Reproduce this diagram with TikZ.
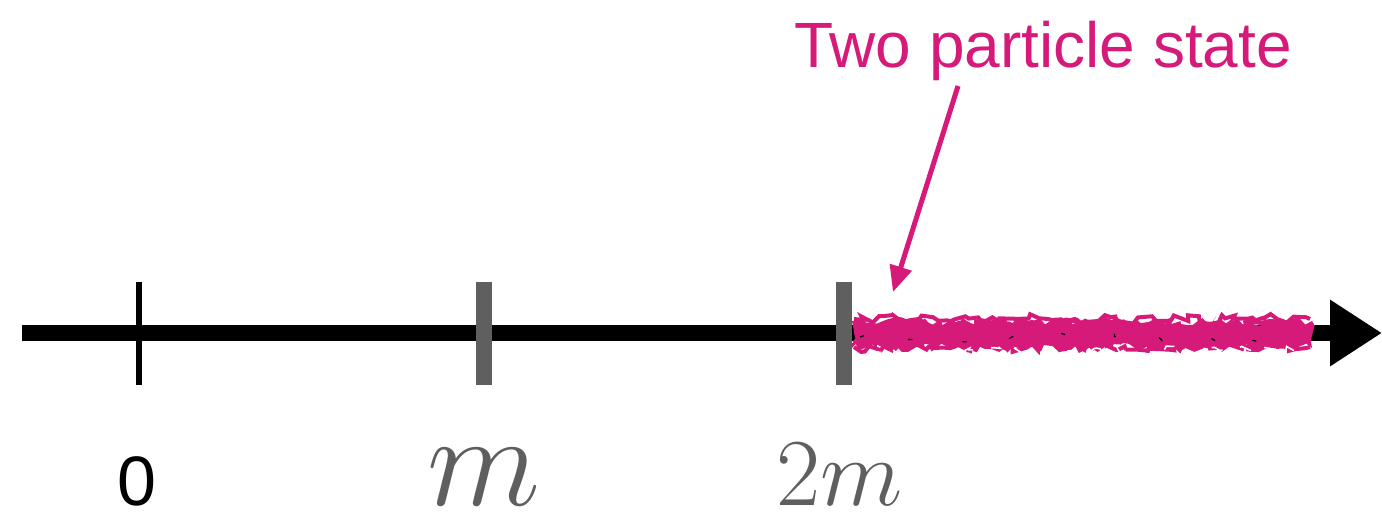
\RequirePackage{fix-cm}
\documentclass[tikz,border=0pt]{standalone}
\usepackage{fontspec}
\setmainfont{Liberation Sans}
\usetikzlibrary{arrows.meta, positioning, decorations.pathmorphing}
\definecolor{stateMagenta}{RGB}{214,26,122}
\definecolor{tickGray}{RGB}{95,95,95}

\begin{document}
\begin{tikzpicture}[
    x=0.5pt, y=-0.5pt,
    axisline/.style={line width=8pt, -{Triangle[length=26pt, width=31.5pt]}},
    zerotick/.style={line width=3pt},
    masstick/.style={line width=8pt, tickGray},
    lbl/.style={anchor=base, inner sep=0pt},
    note/.style={anchor=base, inner sep=0pt, text=stateMagenta, font=\fontsize{32}{38}\selectfont},
    pointer/.style={stateMagenta, line width=2.5pt, -{Triangle[length=13pt, width=11pt]}},
    rough/.style={decorate, decoration={random steps, segment length=3pt, amplitude=2.5pt}}
]
\useasboundingbox (0,0) rectangle (1382,514);
\pgfmathsetseed{11}

% real axis
\coordinate (start) at (22,333);
\coordinate (end) at (1382,333);
\draw[axisline] (start) -- (end);

% two particle continuum
\fill[stateMagenta, rough] (852,321) -- (1312,321) -- (1312,348) -- (852,348) -- cycle;
\foreach \yy in {319,326,333,340,347}
  \draw[stateMagenta, line width=2pt, rough] (854,\yy) -- (1310,\yy);
\draw[white, line width=0.8pt, rough, dash pattern=on 6pt off 9pt] (870,351) -- (1300,351);
\draw[black, line width=0.6pt, rough, dash pattern=on 2pt off 30pt] (860,337) -- (1300,337);

% ticks
\coordinate (zero) at (139,333);
\coordinate (mass) at (484,333);
\coordinate (thresh) at (844,333);
\draw[zerotick] (139,282) -- (139,385);
\draw[masstick] (484,282) -- (484,385);
\draw[masstick] (844,282) -- (844,385);

% labels
\node[lbl, font=\fontsize{35}{40}\selectfont] (lzero) at (137,505) {0};
\node[lbl, text=tickGray, font=\fontsize{66}{66}\selectfont] (lmass) at (484,505) {$m$};
\node[lbl, text=tickGray, font=\fontsize{48}{50}\selectfont] (lthresh) at (840,505) {$2m$};

% annotation
\node[note] (twostate) at (1043,68) {Two particle state};
\coordinate (tip) at (893,292);
\draw[pointer] (958,86) -- (tip);
\end{tikzpicture}
\end{document}
